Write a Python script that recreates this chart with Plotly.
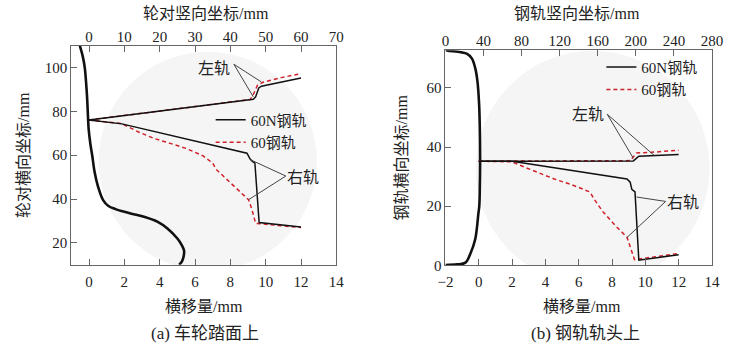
import plotly.graph_objects as go

W, H = 740, 350

# ---------------- (a) wheel tread data ----------------
wheel_x = [-0.52, -0.35, -0.24, -0.12, -0.07, -0.02, 0.08, 0.18, 0.31, 0.5, 0.8, 1.1, 1.5, 2.0,
           2.42, 3.16, 3.89, 4.44, 4.99, 5.25, 5.38, 5.36, 5.27, 5.1]
wheel_y = [110, 105, 100, 88, 80, 72, 65, 60, 52.7, 46, 39.5, 36.8, 35.4, 34.2,
           33.3, 31.8, 29.6, 26.6, 22.1, 19, 16.5, 14, 11.7, 10]

a_left_n_x = [0, 9.3, 9.43, 9.61, 9.76, 12.0]
a_left_n_y = [76.1, 85.5, 86.6, 90.7, 91.5, 95.2]
a_left_60_x = [0, 9.12, 9.3, 9.54, 9.85, 10.87, 12.0]
a_left_60_y = [76.1, 85.4, 87.7, 92.0, 93.3, 95.4, 97.2]
a_right_n_x = [0, 1.86, 8.94, 9.12, 9.25, 9.39, 9.63, 12.0]
a_right_n_y = [76.1, 74.3, 60.9, 58.2, 57.2, 56.4, 29.3, 27.3]
a_right_60_x = [0, 1.86, 2.8, 3.7, 4.6, 5.5, 6.46, 7.0, 7.2, 9.03, 9.21, 9.43, 12.0]
a_right_60_y = [76.1, 74.4, 70.6, 67.6, 65.4, 63.1, 59.7, 56.4, 53.5, 39.7, 35.6, 28.9, 27.0]

# ---------------- (b) rail head data ----------------
rail_x = [-2.0, -1.86, -0.7, -0.41, -0.21, -0.08, 0.02, 0.06, 0.08, 0.06, 0.03, -0.02,
          -0.21, -0.5, -0.8, -1.3, -2.0]
rail_y = [72.8, 72.6, 71.5, 69.9, 66.6, 62.2, 54.5, 46.8, 35, 25.4, 20, 17.7,
          8.9, 4.0, 0.9, 0.3, 0.1]

b_left_n_x = [0, 9.28, 9.61, 12.0]
b_left_n_y = [35.2, 35.3, 36.9, 37.5]
b_left_60_x = [0, 9.1, 9.48, 10.35, 12.0]
b_left_60_y = [35.2, 35.4, 38.0, 38.2, 38.9]
b_right_n_x = [0, 2.0, 8.9, 9.09, 9.19, 9.38, 9.61, 12.0]
b_right_n_y = [35.2, 35.2, 29.2, 28.1, 25.7, 24.8, 1.7, 3.6]
b_right_60_x = [0, 2.0, 2.79, 4.53, 5.7, 6.67, 6.96, 7.44, 8.22, 8.9, 9.35, 12.0]
b_right_60_y = [35.2, 35.0, 33.1, 29.2, 27.0, 24.8, 22.1, 18.2, 13.3, 9.5, 1.9, 4.0]

# axis ticks
a_bottom_ticks = [0, 2, 4, 6, 8, 10, 12, 14]
a_top_ticks = [0, 10, 20, 30, 40, 50, 60, 70]
a_y_ticks = [20, 40, 60, 80, 100]
b_bottom_ticks = [-2, 0, 2, 4, 6, 8, 10, 12, 14]
b_top_ticks = [0, 40, 80, 120, 160, 200, 240, 280]
b_y_ticks = [0, 20, 40, 60]

names = ["60N钢轨", "60钢轨"]

FONT = "Liberation Serif, Noto Sans CJK SC, serif"
BLACK = "#111111"
RED = "#d0202a"
AXC = "#666666"
TXT = "#222222"


def px(xp, yp):
    return xp / W, 1 - yp / H


fig = go.Figure()

# ---- (a) traces ----
fig.add_trace(go.Scatter(x=wheel_x, y=wheel_y, mode="lines", line=dict(color=BLACK, width=2.6, shape="spline"),
                         showlegend=False, xaxis="x", yaxis="y"))
fig.add_trace(go.Scatter(x=a_left_60_x, y=a_left_60_y, mode="lines", line=dict(color=RED, width=1.5, dash="4px,3px"),
                         showlegend=False, xaxis="x", yaxis="y"))
fig.add_trace(go.Scatter(x=a_right_60_x, y=a_right_60_y, mode="lines", line=dict(color=RED, width=1.5, dash="4px,3px"),
                         name=names[1], legend="legend", legendrank=2, xaxis="x", yaxis="y"))
fig.add_trace(go.Scatter(x=a_left_n_x, y=a_left_n_y, mode="lines", line=dict(color=BLACK, width=1.5),
                         showlegend=False, xaxis="x", yaxis="y"))
fig.add_trace(go.Scatter(x=a_right_n_x, y=a_right_n_y, mode="lines", line=dict(color=BLACK, width=1.5),
                         name=names[0], legend="legend", legendrank=1, xaxis="x", yaxis="y"))
# empty trace so the top (secondary) axis is drawn
fig.add_trace(go.Scatter(x=[], y=[], xaxis="x3", yaxis="y", showlegend=False, hoverinfo="skip"))

# ---- (b) traces ----
fig.add_trace(go.Scatter(x=rail_x, y=rail_y, mode="lines", line=dict(color=BLACK, width=2.6, shape="spline"),
                         showlegend=False, xaxis="x2", yaxis="y2"))
fig.add_trace(go.Scatter(x=b_left_60_x, y=b_left_60_y, mode="lines", line=dict(color=RED, width=1.5, dash="4px,3px"),
                         showlegend=False, xaxis="x2", yaxis="y2"))
fig.add_trace(go.Scatter(x=b_right_60_x, y=b_right_60_y, mode="lines", line=dict(color=RED, width=1.5, dash="4px,3px"),
                         name=names[1], legend="legend2", legendrank=2, xaxis="x2", yaxis="y2"))
fig.add_trace(go.Scatter(x=b_left_n_x, y=b_left_n_y, mode="lines", line=dict(color=BLACK, width=1.5),
                         showlegend=False, xaxis="x2", yaxis="y2"))
fig.add_trace(go.Scatter(x=b_right_n_x, y=b_right_n_y, mode="lines", line=dict(color=BLACK, width=1.5),
                         name=names[0], legend="legend2", legendrank=1, xaxis="x2", yaxis="y2"))
fig.add_trace(go.Scatter(x=[], y=[], xaxis="x4", yaxis="y2", showlegend=False, hoverinfo="skip"))

tickfont = dict(family=FONT, size=15, color=TXT)
common = dict(showline=True, linecolor=AXC, linewidth=1, ticks="inside", ticklen=6, tickwidth=1,
              tickcolor=AXC, showgrid=False, zeroline=False, tickfont=tickfont)

# plot boxes in px
A = dict(x0=65, x1=337, y0=46.7, y1=271)
B = dict(x0=449, x1=722.5, y0=51.5, y1=271.5)

fig.update_layout(
    width=W, height=H, margin=dict(l=0, r=0, t=0, b=0),
    paper_bgcolor="white", plot_bgcolor="rgba(0,0,0,0)",
    font=dict(family=FONT, size=15, color=TXT),
    xaxis=dict(domain=[A["x0"] / W, A["x1"] / W], range=[-1, 14], tickvals=a_bottom_ticks, anchor="y",
               ticklabelstandoff=3, **common),
    yaxis=dict(domain=[1 - A["y1"] / H, 1 - A["y0"] / H], range=[10, 110], tickvals=a_y_ticks, anchor="x",
               mirror=True, **common),
    xaxis3=dict(overlaying="x", side="top", anchor="y", range=[-5, 70], tickvals=a_top_ticks,
                ticklabelstandoff=-3, **common),
    xaxis2=dict(domain=[B["x0"] / W, B["x1"] / W], range=[-2, 14], tickvals=b_bottom_ticks, anchor="y2",
                ticklabelstandoff=3, **common),
    yaxis2=dict(domain=[1 - B["y1"] / H, 1 - B["y0"] / H], range=[0, 72.7], tickvals=b_y_ticks, anchor="x2",
                mirror=True, **common),
    xaxis4=dict(overlaying="x2", side="top", anchor="y2", range=[0, 280], tickvals=b_top_ticks,
                ticklabelstandoff=-3, **common),
    legend=dict(x=208 / W, y=1 - 106 / H, xanchor="left", yanchor="top", bgcolor="rgba(0,0,0,0)",
                font=dict(family=FONT, size=15, color=TXT), tracegroupgap=0, itemwidth=30),
    legend2=dict(x=609 / W, y=1 - 52 / H, xanchor="left", yanchor="top", bgcolor="rgba(0,0,0,0)",
                 font=dict(family=FONT, size=15, color=TXT), tracegroupgap=0, itemwidth=30),
)

# watermark-like faint emblems
for (cx, cy, r) in [(205, 165, 112), (600, 172, 120)]:
    fig.add_shape(type="circle", xref="paper", yref="paper",
                  x0=(cx - r) / W, x1=(cx + r) / W, y0=1 - (cy + r) / H, y1=1 - (cy - r) / H,
                  fillcolor="#f5f5f5", line=dict(width=0), layer="below")
# cover overflow beyond plot bottom
for box in (A, B):
    fig.add_shape(type="rect", xref="paper", yref="paper",
                  x0=(box["x0"] - 5) / W, x1=(box["x1"] + 5) / W, y0=0, y1=1 - box["y1"] / H,
                  fillcolor="white", line=dict(width=0), layer="below")

# leader lines (data coordinates)
lead = dict(color="#444444", width=1)
a_leads = [((8.2, 101.5), (9.3, 86.6)), ((8.2, 101.5), (9.76, 93.4)),
           ((11.14, 50.5), (9.12, 58.0)), ((11.14, 50.5), (9.03, 39.7))]
for (p0, p1) in a_leads:
    fig.add_shape(type="line", xref="x", yref="y", x0=p0[0], y0=p0[1], x1=p1[0], y1=p1[1], line=lead)
b_leads = [((7.71, 51.1), (9.27, 36.3)), ((7.71, 51.1), (10.54, 37.1)),
           ((11.22, 21.6), (9.47, 23.1)), ((11.22, 21.6), (8.88, 9.3))]
for (p0, p1) in b_leads:
    fig.add_shape(type="line", xref="x2", yref="y2", x0=p0[0], y0=p0[1], x1=p1[0], y1=p1[1], line=lead)

lab = dict(family=FONT, size=16, color=TXT)
fig.add_annotation(x=7.09, y=99.7, xref="x", yref="y", text="左轨", showarrow=False, font=lab)
fig.add_annotation(x=12.1, y=49.7, xref="x", yref="y", text="右轨", showarrow=False, font=lab)
fig.add_annotation(x=6.54, y=51.1, xref="x2", yref="y2", text="左轨", showarrow=False, font=lab)
fig.add_annotation(x=12.28, y=21.3, xref="x2", yref="y2", text="右轨", showarrow=False, font=lab)

# axis titles and captions (paper positions in px)
texts = [
    ("轮对竖向坐标/mm", 203.5, 14, 0, 16),
    ("钢轨竖向坐标/mm", 584, 14, 0, 16),
    ("轮对横向坐标/mm", 16, 159, -90, 16),
    ("钢轨横向坐标/mm", 404, 161.5, -90, 16),
    ("横移量/mm", 201, 314, 0, 16),
    ("横移量/mm", 589, 314, 0, 16),
    ("(a) 车轮踏面上", 202.5, 341, 0, 17),
    ("(b) 钢轨轨头上", 593, 341, 0, 17),
]
for t, xp, yp, ang, fs in texts:
    X, Y = px(xp, yp)
    fig.add_annotation(x=X, y=Y, xref="paper", yref="paper", text=t, showarrow=False, textangle=ang,
                       xanchor="center", yanchor="middle", font=dict(family=FONT, size=fs, color=TXT))

fig.write_html("out.html")
